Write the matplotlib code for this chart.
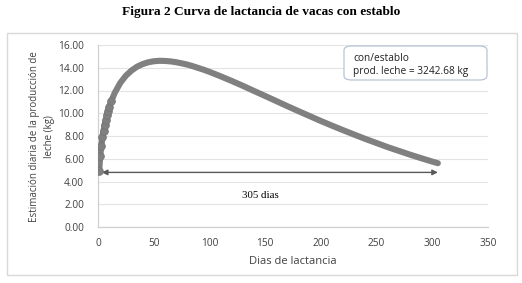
import matplotlib
matplotlib.use("Agg")
import matplotlib.pyplot as plt
from matplotlib.patches import Rectangle, FancyBboxPatch

# Days of lactation and estimated daily milk yield (kg)
days = [1, 2, 3, 4, 5, 6, 7, 8, 9, 10, 12, 15, 20, 25, 30, 35, 40, 45, 50, 55,
        60, 65, 70, 75, 80, 85, 90, 95, 100, 110, 120, 130, 140, 150, 160, 170,
        180, 190, 200, 210, 220, 230, 240, 250, 260, 270, 280, 290, 300, 305]
milk = [4.88, 6.22, 7.14, 7.87, 8.47, 8.99, 9.44, 9.84, 10.20, 10.52, 11.09,
        11.79, 12.67, 13.30, 13.75, 14.09, 14.32, 14.48, 14.57, 14.61, 14.60,
        14.56, 14.49, 14.39, 14.28, 14.14, 13.98, 13.82, 13.64, 13.25, 12.84,
        12.41, 11.96, 11.52, 11.07, 10.62, 10.18, 9.75, 9.32, 8.91, 8.51, 8.12,
        7.74, 7.38, 7.02, 6.69, 6.36, 6.05, 5.75, 5.61]

x_ticks = [0, 50, 100, 150, 200, 250, 300, 350]
y_ticks = [0, 2, 4, 6, 8, 10, 12, 14, 16]

title = "Figura 2 Curva de lactancia de vacas con establo"
x_label = "Dias de lactancia"
y_label = "Estimación diaria de la producción de\nleche (kg)"
box_text = "con/establo\nprod. leche = 3242.68 kg"
arrow_text = "305 dias"
arrow_y = 4.8
arrow_x0, arrow_x1 = 3.5, 305
arrow_label_x, arrow_label_y = 146, 2.8

W, H = 522, 283
fig = plt.figure(figsize=(W / 100, H / 100), dpi=100)
fig.patch.set_facecolor("white")

# outer chart frame
fig.patches.append(Rectangle((7 / W, 1 - 275 / H), 510 / W, 242 / H,
                             transform=fig.transFigure, fill=False,
                             edgecolor="#d9d9d9", linewidth=1.0))

ax = fig.add_axes([98 / W, 1 - 227 / H, 390 / W, 182 / H])
sans = ["Open Sans", "DejaVu Sans"]
serif = ["Liberation Serif", "DejaVu Serif"]

gray = "#808080"
ax.plot(days, milk, color=gray, linewidth=4.4, solid_capstyle="round",
        solid_joinstyle="round", zorder=3)
early = [i for i, d in enumerate(days) if d <= 12]
ax.plot([days[i] for i in early], [milk[i] for i in early], color=gray,
        linestyle="none", marker="o", markersize=5.6,
        markeredgecolor="#737373", markeredgewidth=0.5, zorder=4)

ax.set_xlim(0, 350)
ax.set_ylim(0, 16)
ax.set_xticks(x_ticks)
ax.set_yticks(y_ticks)
ax.set_xticklabels([str(v) for v in x_ticks], fontfamily=sans, fontsize=7.3,
                   color="#404040")
ax.set_yticklabels([f"{v:.2f}" for v in y_ticks], fontfamily=sans, fontsize=7.3,
                   color="#404040")
ax.tick_params(axis="both", length=0)
ax.tick_params(axis="y", pad=10)
ax.tick_params(axis="x", pad=8)
ax.grid(axis="y", color="#e3e3e3", linewidth=0.8)
ax.set_axisbelow(True)
for s in ["top", "right"]:
    ax.spines[s].set_visible(False)
for s in ["left", "bottom"]:
    ax.spines[s].set_color("#d0d0d0")
    ax.spines[s].set_linewidth(0.9)

ax.set_xlabel(x_label, fontfamily=sans, fontsize=8, color="#404040", labelpad=5)
fig.text(42 / W, 1 - 137 / H, y_label, rotation=90, ha="center", va="center",
         multialignment="center", fontfamily=sans, fontsize=7, color="#404040",
         linespacing=1.6)

fig.text(0.5, 1 - 12 / H, title, ha="center", va="center", fontfamily=serif,
         fontsize=9.6, fontweight="bold", color="black")

# double arrow for 305 days
ax.annotate("", xy=(arrow_x0, arrow_y), xytext=(arrow_x1, arrow_y),
            arrowprops=dict(arrowstyle="<|-|>", color="#595959", lw=1.0,
                            mutation_scale=8, shrinkA=0, shrinkB=0), zorder=2)
ax.text(arrow_label_x, arrow_label_y, arrow_text, ha="center", va="center",
        fontfamily=serif, fontsize=7.8, color="black")

# annotation box
box = FancyBboxPatch((344 / W, 1 - 80 / H), 143 / W, 34 / H,
                     boxstyle="round,pad=0,rounding_size=0.015",
                     transform=fig.transFigure, facecolor="white",
                     edgecolor="#b8c4d6", linewidth=0.9, zorder=5)
fig.patches.append(box)
fig.text(353 / W, 1 - 65 / H, box_text, ha="left", va="center",
         fontfamily=sans, fontsize=7.3, color="#202020", linespacing=1.25,
         zorder=6)

fig.savefig("out.png", dpi=100, facecolor="white")
